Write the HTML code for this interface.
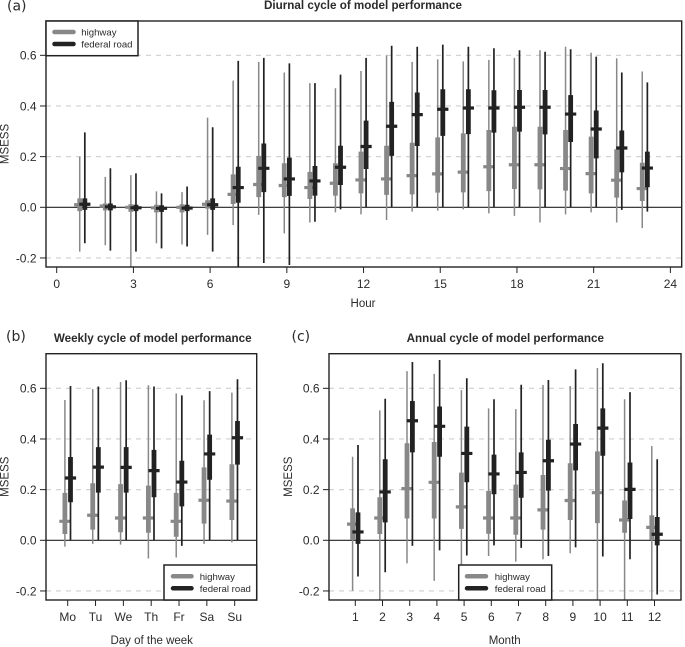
<!DOCTYPE html>
<html lang="en">
<head>
<meta charset="utf-8">
<title>Cycles of model performance</title>
<style>
  html, body { margin: 0; padding: 0; background: #fff; }
  #figure { display: block; width: 685px; height: 647px; filter: blur(0.3px); }
  text { font-family: "Liberation Sans", Arial, sans-serif; fill: #2b2b2b; }
  .tick-label { font-size: 12px; }
  .axis-title { font-size: 11.5px; }
  .chart-title { font-size: 11.65px; font-weight: bold; text-anchor: middle; }
  .panel-label { font-family: "DejaVu Sans", sans-serif; font-size: 14px; }
  .legend-text { font-size: 9.6px; }
  .legend-box { fill: #fff; stroke: #222; stroke-width: 1.5; }
  .plot-box { fill: none; stroke: #222; stroke-width: 1.4; }
</style>
</head>
<body>
<svg id="figure" xmlns="http://www.w3.org/2000/svg" width="685" height="647" viewBox="0 0 685 647">
  <defs>
    <clipPath id="clip-a"><rect x="46" y="21" width="635.7" height="246"></rect></clipPath>
    <clipPath id="clip-b"><rect x="46" y="353.7" width="210.7" height="246.3"></rect></clipPath>
    <clipPath id="clip-c"><rect x="329" y="353.7" width="352" height="246.3"></rect></clipPath>
  </defs>

  <g id="panel-a"></g>
  <g id="panel-b"></g>
  <g id="panel-c"></g>

  <text class="panel-label" x="7" y="10.5">(a)</text>
  <text class="panel-label" x="6" y="341">(b)</text>
  <text class="panel-label" x="291.5" y="341">(c)</text>

  <text class="chart-title" x="363" y="9">Diurnal cycle of model performance</text>
  <text class="chart-title" x="152.7" y="342">Weekly cycle of model performance</text>
  <text class="chart-title" x="505.3" y="342">Annual cycle of model performance</text>

  <text class="axis-title" x="363" y="307" text-anchor="middle">Hour</text>
  <text class="axis-title" x="151.7" y="644" text-anchor="middle">Day of the week</text>
  <text class="axis-title" x="504.7" y="644" text-anchor="middle">Month</text>

  <text class="axis-title" transform="translate(8.5,144) rotate(-90)" text-anchor="middle">MSESS</text>
  <text class="axis-title" transform="translate(8.5,476.7) rotate(-90)" text-anchor="middle">MSESS</text>
  <text class="axis-title" transform="translate(292,476.7) rotate(-90)" text-anchor="middle">MSESS</text>

  <g>
    <rect class="legend-box" x="46" y="21" width="92" height="34.7"></rect>
    <line x1="54.5" x2="73.5" y1="32" y2="32" stroke="#888" stroke-width="4.5" stroke-linecap="round"></line>
    <line x1="54.5" x2="73.5" y1="44" y2="44" stroke="#222" stroke-width="4.5" stroke-linecap="round"></line>
    <text class="legend-text" x="81.3" y="35.5">highway</text>
    <text class="legend-text" x="81.3" y="47.5">federal road</text>
  </g>
  <g>
    <rect class="legend-box" x="164" y="565" width="92.7" height="35"></rect>
    <line x1="173" x2="191.5" y1="576.3" y2="576.3" stroke="#888" stroke-width="4.5" stroke-linecap="round"></line>
    <line x1="173" x2="191.5" y1="588.3" y2="588.3" stroke="#222" stroke-width="4.5" stroke-linecap="round"></line>
    <text class="legend-text" x="199.7" y="579.8">highway</text>
    <text class="legend-text" x="199.7" y="591.8">federal road</text>
  </g>
  <g>
    <rect class="legend-box" x="458.7" y="565" width="93" height="35"></rect>
    <line x1="467" x2="486" y1="576.3" y2="576.3" stroke="#888" stroke-width="4.5" stroke-linecap="round"></line>
    <line x1="467" x2="486" y1="588.3" y2="588.3" stroke="#222" stroke-width="4.5" stroke-linecap="round"></line>
    <text class="legend-text" x="494.7" y="579.8">highway</text>
    <text class="legend-text" x="494.7" y="591.8">federal road</text>
  </g>
</svg>

<script>
// ---- Shared axis values
const yTickValues = [-0.2, 0, 0.2, 0.4, 0.6];
const yTickLabels = ["-0.2", "0.0", "0.2", "0.4", "0.6"];
const gridValues = [-0.2, 0.2, 0.4, 0.6];

// ---- Panel (a): diurnal cycle
const hourTickValues = [0, 3, 6, 9, 12, 15, 18, 21, 24];
const hourTickLabels = ["0", "3", "6", "9", "12", "15", "18", "21", "24"];
const hourCategories = [1, 2, 3, 4, 5, 6, 7, 8, 9, 10, 11, 12, 13, 14, 15, 16, 17, 18, 19, 20, 21, 22, 23];
const hourHighwayLow  = [-0.175, -0.15, -0.24, -0.142, -0.147, -0.109, -0.07, -0.03, -0.103, -0.06, -0.02, -0.028, -0.05, -0.017, -0.013, -0.008, -0.024, -0.034, -0.06, -0.028, -0.02, -0.06, -0.082];
const hourHighwayQ1   = [-0.015, -0.012, -0.018, -0.02, -0.02, -0.005, 0.013, 0.04, 0.04, 0.033, 0.046, 0.055, 0.049, 0.051, 0.058, 0.059, 0.064, 0.072, 0.071, 0.066, 0.055, 0.038, 0.025];
const hourHighwayMed  = [0.01, 0.005, 0, -0.002, 0, 0.012, 0.051, 0.09, 0.086, 0.078, 0.095, 0.108, 0.112, 0.125, 0.132, 0.139, 0.16, 0.168, 0.168, 0.153, 0.133, 0.107, 0.074];
const hourHighwayQ3   = [0.035, 0.015, 0.012, 0.01, 0.012, 0.028, 0.13, 0.203, 0.174, 0.14, 0.174, 0.22, 0.243, 0.255, 0.276, 0.292, 0.305, 0.318, 0.318, 0.305, 0.279, 0.229, 0.176];
const hourHighwayHigh = [0.2, 0.12, 0.127, 0.063, 0.06, 0.354, 0.5, 0.574, 0.532, 0.49, 0.47, 0.538, 0.6, 0.574, 0.584, 0.576, 0.582, 0.59, 0.62, 0.634, 0.61, 0.588, 0.536];
const hourFederalLow  = [-0.142, -0.171, -0.175, -0.162, -0.155, -0.175, -0.24, -0.22, -0.228, -0.057, -0.008, 0, 0, 0, 0, 0, 0, 0, 0, 0, 0, -0.01, -0.017];
const hourFederalQ1   = [-0.01, -0.012, -0.015, -0.018, -0.015, -0.01, 0.018, 0.06, 0.045, 0.046, 0.088, 0.151, 0.203, 0.242, 0.282, 0.289, 0.295, 0.299, 0.288, 0.258, 0.193, 0.138, 0.079];
const hourFederalMed  = [0.012, 0.002, -0.002, -0.004, -0.003, 0.01, 0.078, 0.154, 0.112, 0.104, 0.158, 0.24, 0.32, 0.366, 0.387, 0.392, 0.392, 0.395, 0.395, 0.368, 0.309, 0.234, 0.155];
const hourFederalQ3   = [0.035, 0.015, 0.01, 0.008, 0.01, 0.035, 0.16, 0.252, 0.196, 0.163, 0.243, 0.342, 0.416, 0.453, 0.466, 0.466, 0.462, 0.463, 0.463, 0.443, 0.382, 0.303, 0.22];
const hourFederalHigh = [0.296, 0.154, 0.134, 0.055, 0.082, 0.316, 0.578, 0.59, 0.568, 0.49, 0.524, 0.59, 0.638, 0.634, 0.642, 0.634, 0.628, 0.62, 0.614, 0.624, 0.595, 0.532, 0.493];

// ---- Panel (b): weekly cycle
const dayCategories = ["Mo", "Tu", "We", "Th", "Fr", "Sa", "Su"];
const dayHighwayLow  = [-0.025, -0.014, -0.017, -0.072, -0.068, -0.014, -0.008];
const dayHighwayQ1   = [0.025, 0.042, 0.032, 0.03, 0.014, 0.066, 0.08];
const dayHighwayMed  = [0.075, 0.099, 0.088, 0.088, 0.075, 0.158, 0.155];
const dayHighwayQ3   = [0.187, 0.225, 0.222, 0.216, 0.187, 0.288, 0.3];
const dayHighwayHigh = [0.554, 0.597, 0.625, 0.612, 0.58, 0.553, 0.583];
const dayFederalLow  = [0, 0, 0, 0, -0.022, 0, 0];
const dayFederalQ1   = [0.15, 0.188, 0.188, 0.17, 0.134, 0.239, 0.299];
const dayFederalMed  = [0.246, 0.289, 0.288, 0.275, 0.23, 0.341, 0.405];
const dayFederalQ3   = [0.329, 0.368, 0.368, 0.357, 0.314, 0.417, 0.471];
const dayFederalHigh = [0.609, 0.607, 0.632, 0.607, 0.572, 0.589, 0.636];

// ---- Panel (c): annual cycle
const monthCategories = ["1", "2", "3", "4", "5", "6", "7", "8", "9", "10", "11", "12"];
const monthHighwayLow  = [-0.199, -0.24, -0.091, -0.16, -0.12, -0.062, -0.084, -0.075, -0.051, -0.24, -0.24, -0.24];
const monthHighwayQ1   = [0.002, 0.025, 0.086, 0.086, 0.045, 0.026, 0.022, 0.042, 0.08, 0.068, 0.03, 0.001];
const monthHighwayMed  = [0.064, 0.088, 0.204, 0.229, 0.132, 0.088, 0.088, 0.12, 0.157, 0.188, 0.08, 0.051];
const monthHighwayQ3   = [0.126, 0.17, 0.383, 0.388, 0.267, 0.195, 0.22, 0.258, 0.304, 0.351, 0.157, 0.099];
const monthHighwayHigh = [0.33, 0.513, 0.668, 0.657, 0.593, 0.521, 0.518, 0.613, 0.609, 0.68, 0.557, 0.372];
const monthFederalLow  = [-0.143, -0.126, -0.022, -0.04, -0.06, -0.02, -0.03, -0.062, -0.028, -0.064, -0.075, -0.214];
const monthFederalQ1   = [-0.014, 0.071, 0.347, 0.33, 0.229, 0.182, 0.168, 0.196, 0.276, 0.334, 0.084, -0.02];
const monthFederalMed  = [0.033, 0.191, 0.472, 0.45, 0.343, 0.262, 0.268, 0.314, 0.38, 0.443, 0.201, 0.024];
const monthFederalQ3   = [0.11, 0.32, 0.55, 0.528, 0.449, 0.338, 0.347, 0.397, 0.459, 0.521, 0.307, 0.092];
const monthFederalHigh = [0.376, 0.559, 0.704, 0.712, 0.64, 0.557, 0.614, 0.633, 0.675, 0.699, 0.585, 0.32];

const SVG_NS = "http://www.w3.org/2000/svg";
const HIGHWAY_COLOR = "#888888";
const FEDERAL_COLOR = "#222222";

function mk(parent, tag, attrs) {
  const node = document.createElementNS(SVG_NS, tag);
  for (const key in attrs) node.setAttribute(key, attrs[key]);
  parent.appendChild(node);
  return node;
}

function drawSeries(group, xScale, yScale, seriesName, color, whiskerWidth, offset, cats, low, q1, med, q3, high) {
  for (let i = 0; i < cats.length; i++) {
    const cx = xScale(i) + offset;
    const whisker = mk(group, "line", { x1: cx, x2: cx, y1: yScale(low[i]), y2: yScale(high[i]), stroke: color, "stroke-width": whiskerWidth });
    
    
    const box = mk(group, "line", { x1: cx, x2: cx, y1: yScale(q1[i]), y2: yScale(q3[i]), stroke: color, "stroke-width": 4.8 });
    
    
    const median = mk(group, "line", { x1: cx - 5.6, x2: cx + 5.6, y1: yScale(med[i]), y2: yScale(med[i]), stroke: color, "stroke-width": 3.2 });
    
    
  }
}

function drawPanel(cfg) {
  const root = document.getElementById(cfg.id);
  const yScale = function (v) { return cfg.yZero - v * cfg.yUnit; };

  const gridGroup = mk(root, "g", {});
  
  
  gridValues.forEach(function (v) {
    const grid = mk(gridGroup, "line", { x1: cfg.left, x2: cfg.right, y1: yScale(v), y2: yScale(v), stroke: "#cfcfcf", "stroke-width": 1.1, "stroke-dasharray": "5 5" });
    
    
  });

  const zero = mk(root, "line", { x1: cfg.left, x2: cfg.right, y1: yScale(0), y2: yScale(0), stroke: "#222", "stroke-width": 1.2 });
  
  

  const marks = mk(root, "g", { "clip-path": "url(#" + cfg.clip + ")" });
  
  
  drawSeries(marks, cfg.catX, yScale, "highway", HIGHWAY_COLOR, 1.5, -cfg.offset, cfg.cats, cfg.hl, cfg.hq1, cfg.hm, cfg.hq3, cfg.hh);
  drawSeries(marks, cfg.catX, yScale, "federal-road", FEDERAL_COLOR, 1.7, cfg.offset, cfg.cats, cfg.fl, cfg.fq1, cfg.fm, cfg.fq3, cfg.fh);

  const box = mk(root, "rect", { class: "plot-box", x: cfg.left, y: cfg.top, width: cfg.right - cfg.left, height: cfg.bottom - cfg.top });
  
  

  yTickValues.forEach(function (v, i) {
    const tick = mk(root, "line", { x1: cfg.left - 6, x2: cfg.left, y1: yScale(v), y2: yScale(v), stroke: "#222", "stroke-width": 1 });
    
    
    const label = mk(root, "text", { class: "tick-label", x: cfg.left - 9.5, y: yScale(v) + 4.3, "text-anchor": "end" });
    label.textContent = yTickLabels[i];
    
    
  });

  cfg.xTickLabels.forEach(function (text, i) {
    const x = cfg.tickX(i);
    const tick = mk(root, "line", { x1: x, x2: x, y1: cfg.bottom, y2: cfg.bottom + 6, stroke: "#222", "stroke-width": 1 });
    
    
    const label = mk(root, "text", { class: "tick-label", x: x, y: cfg.bottom + 21, "text-anchor": "middle" });
    label.textContent = text;
    
    
  });
}

const hourX = function (h) { return 56.7 + h * 25.57; };
const dayX = function (i) { return 67.7 + i * 27.83; };
const monthX = function (i) { return 355.3 + i * 27.2; };

drawPanel({
  id: "panel-a", clip: "clip-a", left: 46, right: 681.7, top: 21, bottom: 267, yZero: 207.3, yUnit: 253.3, offset: 2.55,
  cats: hourCategories,
  catX: function (i) { return hourX(hourCategories[i]); },
  tickX: function (i) { return hourX(hourTickValues[i]); },
  xTickLabels: hourTickLabels,
  hl: hourHighwayLow, hq1: hourHighwayQ1, hm: hourHighwayMed, hq3: hourHighwayQ3, hh: hourHighwayHigh,
  fl: hourFederalLow, fq1: hourFederalQ1, fm: hourFederalMed, fq3: hourFederalQ3, fh: hourFederalHigh
});
drawPanel({
  id: "panel-b", clip: "clip-b", left: 46, right: 256.7, top: 353.7, bottom: 600, yZero: 540.3, yUnit: 253.3, offset: 2.8,
  cats: dayCategories,
  catX: dayX,
  tickX: dayX,
  xTickLabels: dayCategories,
  hl: dayHighwayLow, hq1: dayHighwayQ1, hm: dayHighwayMed, hq3: dayHighwayQ3, hh: dayHighwayHigh,
  fl: dayFederalLow, fq1: dayFederalQ1, fm: dayFederalMed, fq3: dayFederalQ3, fh: dayFederalHigh
});
drawPanel({
  id: "panel-c", clip: "clip-c", left: 329, right: 681, top: 353.7, bottom: 600, yZero: 540.3, yUnit: 253.3, offset: 2.7,
  cats: monthCategories,
  catX: monthX,
  tickX: monthX,
  xTickLabels: monthCategories,
  hl: monthHighwayLow, hq1: monthHighwayQ1, hm: monthHighwayMed, hq3: monthHighwayQ3, hh: monthHighwayHigh,
  fl: monthFederalLow, fq1: monthFederalQ1, fm: monthFederalMed, fq3: monthFederalQ3, fh: monthFederalHigh
});
</script>
</body>
</html>
